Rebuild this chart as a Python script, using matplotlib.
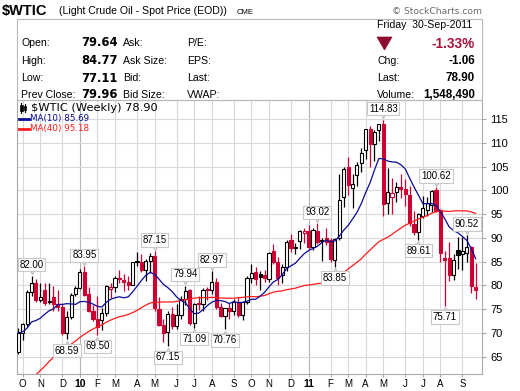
import numpy as np
import pandas as pd
import matplotlib
matplotlib.use('Agg')
import matplotlib.pyplot as plt
from matplotlib.patches import Rectangle, Polygon
from matplotlib.lines import Line2D
from matplotlib.transforms import offset_copy

W, H = 520, 391

# ---------------- data (weekly bars, first bar = week ending 2009-10-02) ----------------
first_week = '2009-10-02'
opens = [66.0, 69.9, 71.8, 78.6, 80.5, 77.0, 78.9, 76.4, 77.5, 76.0,
         75.5, 69.9, 73.4, 78.1, 79.4, 82.8, 78.2, 74.5, 73.0, 72.7,
         74.1, 79.3, 79.7, 81.5, 81.2, 80.7, 80.0, 84.9, 84.9, 83.2,
         85.1, 86.2, 75.1, 71.6, 70.2, 74.0, 71.5, 73.8, 77.2, 78.9,
         72.1, 76.1, 76.0, 79.0, 79.0, 80.7, 75.4, 73.5, 75.2, 74.6,
         76.5, 73.7, 76.5, 81.6, 82.7, 82.3, 82.2, 81.4, 87.2, 84.9,
         82.2, 83.8, 89.5, 87.8, 89.4, 91.0, 91.4, 88.0, 91.5, 89.5,
         89.9, 89.5, 85.3, 89.9, 98.6, 104.8, 100.4, 103.2, 105.7, 108.5,
         113.0, 109.7, 112.7, 113.9, 97.4, 98.6, 99.7, 100.6, 100.2, 99.0,
         93.0, 91.2, 94.5, 95.8, 97.0, 100.0, 95.8, 85.8, 85.8, 82.1,
         87.5, 86.6, 86.8, 88.0, 79.64]
highs = [70.9, 72.0, 78.9, 82.00, 81.3, 80.5, 80.5, 80.5, 79.9, 79.0,
         76.0, 74.5, 78.3, 79.9, 83.5, 83.95, 79.7, 75.9, 77.8, 75.2,
         80.0, 80.5, 82.0, 83.2, 82.4, 82.0, 85.0, 87.0, 86.5, 85.5,
         86.7, 87.15, 77.5, 72.8, 74.5, 75.5, 76.0, 77.7, 79.94, 79.3,
         76.2, 77.8, 79.5, 79.7, 82.97, 81.6, 76.2, 75.2, 76.2, 77.2,
         77.5, 76.6, 81.9, 84.4, 83.8, 83.0, 83.3, 87.0, 88.6, 86.0,
         84.5, 89.5, 90.8, 89.0, 91.6, 92.0, 92.6, 92.0, 93.02, 89.9,
         92.0, 90.0, 90.0, 103.4, 104.9, 106.9, 103.4, 106.0, 108.8, 113.0,
         113.5, 112.6, 114.0, 114.83, 104.6, 102.6, 101.8, 103.4, 102.4, 101.0,
         95.6, 95.3, 98.7, 98.6, 100.0, 100.62, 96.0, 87.2, 89.1, 86.5,
         90.2, 90.2, 90.52, 88.3, 84.77]
lows = [65.5, 68.5, 71.3, 77.8, 76.5, 76.5, 75.9, 76.0, 74.5, 74.6,
        69.5, 68.59, 72.8, 77.7, 79.2, 77.8, 74.3, 72.4, 69.50, 70.6,
        73.5, 77.3, 78.5, 80.5, 78.7, 78.9, 80.0, 84.0, 82.7, 80.8,
        82.6, 74.6, 71.5, 68.0, 67.15, 70.8, 70.8, 73.0, 75.8, 71.6,
        71.09, 74.8, 74.5, 76.8, 78.2, 75.1, 73.3, 70.76, 72.8, 73.7,
        73.3, 72.6, 76.0, 80.5, 80.1, 79.0, 80.6, 80.6, 84.5, 80.06,
        80.5, 83.0, 87.0, 86.5, 87.7, 88.8, 87.6, 87.5, 88.7, 85.1,
        88.5, 84.9, 83.85, 89.5, 96.5, 99.0, 96.2, 101.0, 103.8, 106.6,
        104.9, 106.2, 110.4, 94.63, 94.9, 95.0, 97.6, 98.4, 96.6, 92.4,
        90.5, 89.61, 94.2, 94.5, 95.4, 95.5, 85.0, 75.71, 81.0, 81.1,
        83.5, 83.3, 85.0, 78.4, 77.11]
closes = [69.95, 71.77, 78.53, 80.50, 77.00, 77.43, 76.35, 76.72, 76.05, 75.47,
          69.87, 73.36, 78.05, 79.36, 82.75, 78.00, 74.54, 72.89, 71.19, 74.13,
          79.81, 79.66, 81.50, 81.24, 80.68, 80.00, 84.87, 84.92, 83.24, 85.12,
          86.15, 75.11, 71.61, 70.04, 73.97, 71.51, 73.78, 77.18, 78.86, 72.14,
          76.09, 76.01, 78.98, 78.95, 80.70, 75.39, 73.46, 75.17, 74.60, 76.45,
          73.66, 76.49, 81.58, 82.66, 81.25, 81.69, 81.43, 86.85, 84.88, 81.51,
          83.76, 89.19, 87.79, 88.02, 91.51, 91.38, 88.03, 91.54, 89.11, 89.34,
          89.03, 85.58, 89.70, 97.88, 104.42, 101.16, 101.42, 105.40, 107.94, 112.79,
          109.66, 112.29, 113.93, 97.18, 99.65, 99.49, 100.59, 100.22, 99.29, 93.01,
          91.16, 94.94, 96.20, 97.24, 99.87, 95.70, 86.88, 85.38, 82.26, 85.37,
          86.45, 87.24, 87.96, 79.85, 78.90]
# weekly closes of the 39 weeks before the first bar (needed by the moving averages)
prior_closes = [46.34, 40.83, 36.51, 46.47, 41.68, 40.17, 37.51, 38.94, 44.76, 45.52,
                46.25, 51.06, 52.38, 52.51, 52.24, 50.33, 51.55, 53.20, 58.63, 56.34,
                61.67, 66.31, 68.44, 72.04, 69.55, 69.16, 66.73, 59.89, 63.56, 68.05,
                69.45, 70.93, 67.51, 73.89, 72.74, 68.02, 69.29, 72.04, 66.02]
month_labels = ['O', 'N', 'D', '10', 'F', 'M', 'A', 'M', 'J', 'J', 'A', 'S',
                'O', 'N', 'D', '11', 'F', 'M', 'A', 'M', 'J', 'J', 'A', 'S']
y_ticks = [65, 70, 75, 80, 85, 90, 95, 100, 105, 110, 115]
high_label_bars = [3, 15, 31, 38, 44, 68, 83, 95, 102]
low_label_bars = [11, 18, 34, 40, 47, 72, 91, 97]

# ---------------- figure ----------------
fig = plt.figure(figsize=(W / 100, H / 100), dpi=100)
fig.patch.set_facecolor('white')

def fx(x):
    return x / W

def fy(y):
    return 1 - y / H

SANS = ['Liberation Sans', 'DejaVu Sans']
VER = ['DejaVu Sans']

# header
fig.text(fx(2), fy(11), '$WTIC', family=SANS, weight='bold', fontsize=10.5, va='center', ha='left')
fig.text(fx(59), fy(11.5), '(Light Crude Oil - Spot Price (EOD))', family=SANS, fontsize=7.6, va='center', ha='left')
fig.text(fx(237), fy(12), 'CME', family=SANS, fontsize=5.6, va='center', ha='left')
fig.text(fx(482), fy(11), '\u00a9 StockCharts.com', family=['DejaVu Sans'], fontsize=6.6,
         color='#6a6a6a', va='center', ha='right')

# info box
fig.add_artist(Rectangle((fx(17), fy(100)), fx(482) - fx(17), fy(19) - fy(100),
                         transform=fig.transFigure, fill=False, ec='#b8b8b8', lw=0.8))

rows_y = [43, 61, 78, 95]
lab1 = ['Open:', 'High:', 'Low:', 'Prev Close:']
val1 = ['79.64', '84.77', '77.11', '79.96']
lab2 = ['Ask:', 'Ask Size:', 'Bid:', 'Bid Size:']
lab3 = ['P/E:', 'EPS:', 'Last:', 'VWAP:']
for k, y in enumerate(rows_y):
    fig.text(fx(21), fy(y), lab1[k], family=SANS, fontsize=7.6, va='center', ha='left')
    fig.text(fx(118), fy(y), val1[k], family=VER, weight='bold', fontsize=8.3, va='center', ha='right')
    fig.text(fx(123), fy(y), lab2[k], family=SANS, fontsize=7.6, va='center', ha='left')
    fig.text(fx(187), fy(y), lab3[k], family=SANS, fontsize=7.6, va='center', ha='left')

fig.text(fx(377), fy(25), 'Friday  30-Sep-2011', family=SANS, fontsize=7.6, va='center', ha='left')
fig.add_artist(Polygon([[fx(377), fy(37)], [fx(392), fy(37)], [fx(384.5), fy(50)]],
                       closed=True, transform=fig.transFigure, fc='#8e0a2e', ec='#8e0a2e', lw=0.5))
fig.text(fx(475), fy(43.5), '-1.33%', family=SANS, weight='bold', fontsize=9.8, color='#a3143c',
         va='center', ha='right')
rlab = ['Chg:', 'Last:', 'Volume:']
rval = ['-1.06', '78.90', '1,548,490']
for k, y in enumerate(rows_y[1:]):
    fig.text(fx(377), fy(y), rlab[k], family=SANS, fontsize=7.6, va='center', ha='left')
    fig.text(fx(475), fy(y), rval[k], family=SANS, weight='bold', fontsize=8.4, va='center', ha='right')

# ---------------- chart axes ----------------
ax = fig.add_axes([fx(17), fy(374), fx(482) - fx(17), fy(100) - fy(374)])
n = len(closes)
x = np.arange(n)
ax.set_xlim(-0.3, 105.45)
ax.set_ylim(61.32, 119.0)

dates = pd.date_range(first_week, periods=n, freq='W-FRI')
mondays = dates - pd.Timedelta(days=4)
tick_pos = [i for i in range(1, n) if mondays[i].month != mondays[i - 1].month]
year_pos = [p for p, lab in zip(tick_pos, month_labels) if lab.isdigit()]

for p in tick_pos:
    col = '#b4b4b4' if p in year_pos else '#d8d8d8'
    ax.axvline(p, color=col, lw=0.8, zorder=0)
for yv in y_ticks:
    ax.axhline(yv, color='#d8d8d8', lw=0.8, zorder=0)

# candles
red = '#cc0033'
prev = prior_closes[-1]
for i in range(n):
    o, h, l, c = opens[i], highs[i], lows[i], closes[i]
    col = 'black' if c >= prev else red
    hollow = c >= o
    ax.vlines(i, l, h, color=col, lw=0.9, zorder=2)
    lo = min(o, c)
    hgt = max(abs(c - o), 0.2)
    ax.add_patch(Rectangle((i - 0.36, lo), 0.72, hgt, fc='white' if hollow else col,
                           ec=col, lw=0.8, zorder=3))
    prev = c

# moving averages
allc = pd.Series(prior_closes + closes)
ma10 = allc.rolling(10).mean().to_numpy()[-n:]
ma40 = allc.rolling(40).mean().to_numpy()[-n:]
ax.plot(x, ma40, color='#ff1a1a', lw=0.9, zorder=4)
ax.plot(x, ma10, color='#0a0a96', lw=0.9, zorder=4)

# high / low labels
bbox = dict(boxstyle='square,pad=0.18', fc='white', ec='#c8c8c8', lw=0.8)
for i in high_label_bars:
    ax.annotate(f'{highs[i]:.2f}', (i, highs[i]), xytext=(0, 8), textcoords='offset points',
                ha='center', va='center', fontsize=7, family=SANS, bbox=bbox, zorder=6)
    tr = offset_copy(ax.transData, fig=fig, x=0, y=3.2, units='points')
    ax.plot([i], [highs[i]], marker='v', ms=4.5, mfc='white', mec='#b8b8b8', mew=0.8,
            transform=tr, zorder=5)
for i in low_label_bars:
    ax.annotate(f'{lows[i]:.2f}', (i, lows[i]), xytext=(0, -8), textcoords='offset points',
                ha='center', va='center', fontsize=7, family=SANS, bbox=bbox, zorder=6)
    tr = offset_copy(ax.transData, fig=fig, x=0, y=-3.2, units='points')
    ax.plot([i], [lows[i]], marker='^', ms=4.5, mfc='white', mec='#b8b8b8', mew=0.8,
            transform=tr, zorder=5)

# axes styling
for s in ax.spines.values():
    s.set_color('#a8a8a8')
    s.set_linewidth(0.8)
ax.yaxis.tick_right()
ax.set_yticks(y_ticks)
ax.set_yticklabels([str(v) for v in y_ticks], family=SANS, fontsize=8)
ax.tick_params(axis='y', length=3, width=0.8, color='#a8a8a8', pad=3)
ax.set_xticks(tick_pos)
ax.set_xticklabels(month_labels, family=SANS, fontsize=7.0)
ax.tick_params(axis='x', length=2.5, width=0.8, color='#a8a8a8', pad=1)
for lab in ax.get_xticklabels():
    if lab.get_text().isdigit():
        lab.set_fontweight('bold')
        lab.set_fontsize(7.6)

# legend (inside plot, top-left)
fig.add_artist(Line2D([fx(21), fx(21)], [fy(103), fy(113)], color='black', lw=0.8, transform=fig.transFigure))
fig.add_artist(Rectangle((fx(19.5), fy(111)), fx(3) - fx(0), fy(105) - fy(111), transform=fig.transFigure,
                         fc='black', ec='black', lw=0.5))
fig.add_artist(Line2D([fx(25), fx(25)], [fy(104), fy(112)], color='black', lw=0.8, transform=fig.transFigure))
fig.add_artist(Rectangle((fx(23.8), fy(110)), fx(2.5) - fx(0), fy(106) - fy(110), transform=fig.transFigure,
                         fc='white', ec='black', lw=0.6))
fig.text(fx(31), fy(108), '$WTIC (Weekly) 78.90', family=VER, fontsize=8.2, va='center', ha='left')
fig.add_artist(Line2D([fx(19), fx(29)], [fy(118.5), fy(118.5)], color='#0a0a96', lw=2, transform=fig.transFigure))
fig.text(fx(30), fy(118.5), 'MA(10) 85.69', family=VER, fontsize=6.3, color='#0a0a96', va='center', ha='left')
fig.add_artist(Line2D([fx(19), fx(29)], [fy(129), fy(129)], color='#ff1a1a', lw=2, transform=fig.transFigure))
fig.text(fx(30), fy(129), 'MA(40) 95.18', family=VER, fontsize=6.3, color='#ff1a1a', va='center', ha='left')

fig.savefig('out.png', dpi=100)
